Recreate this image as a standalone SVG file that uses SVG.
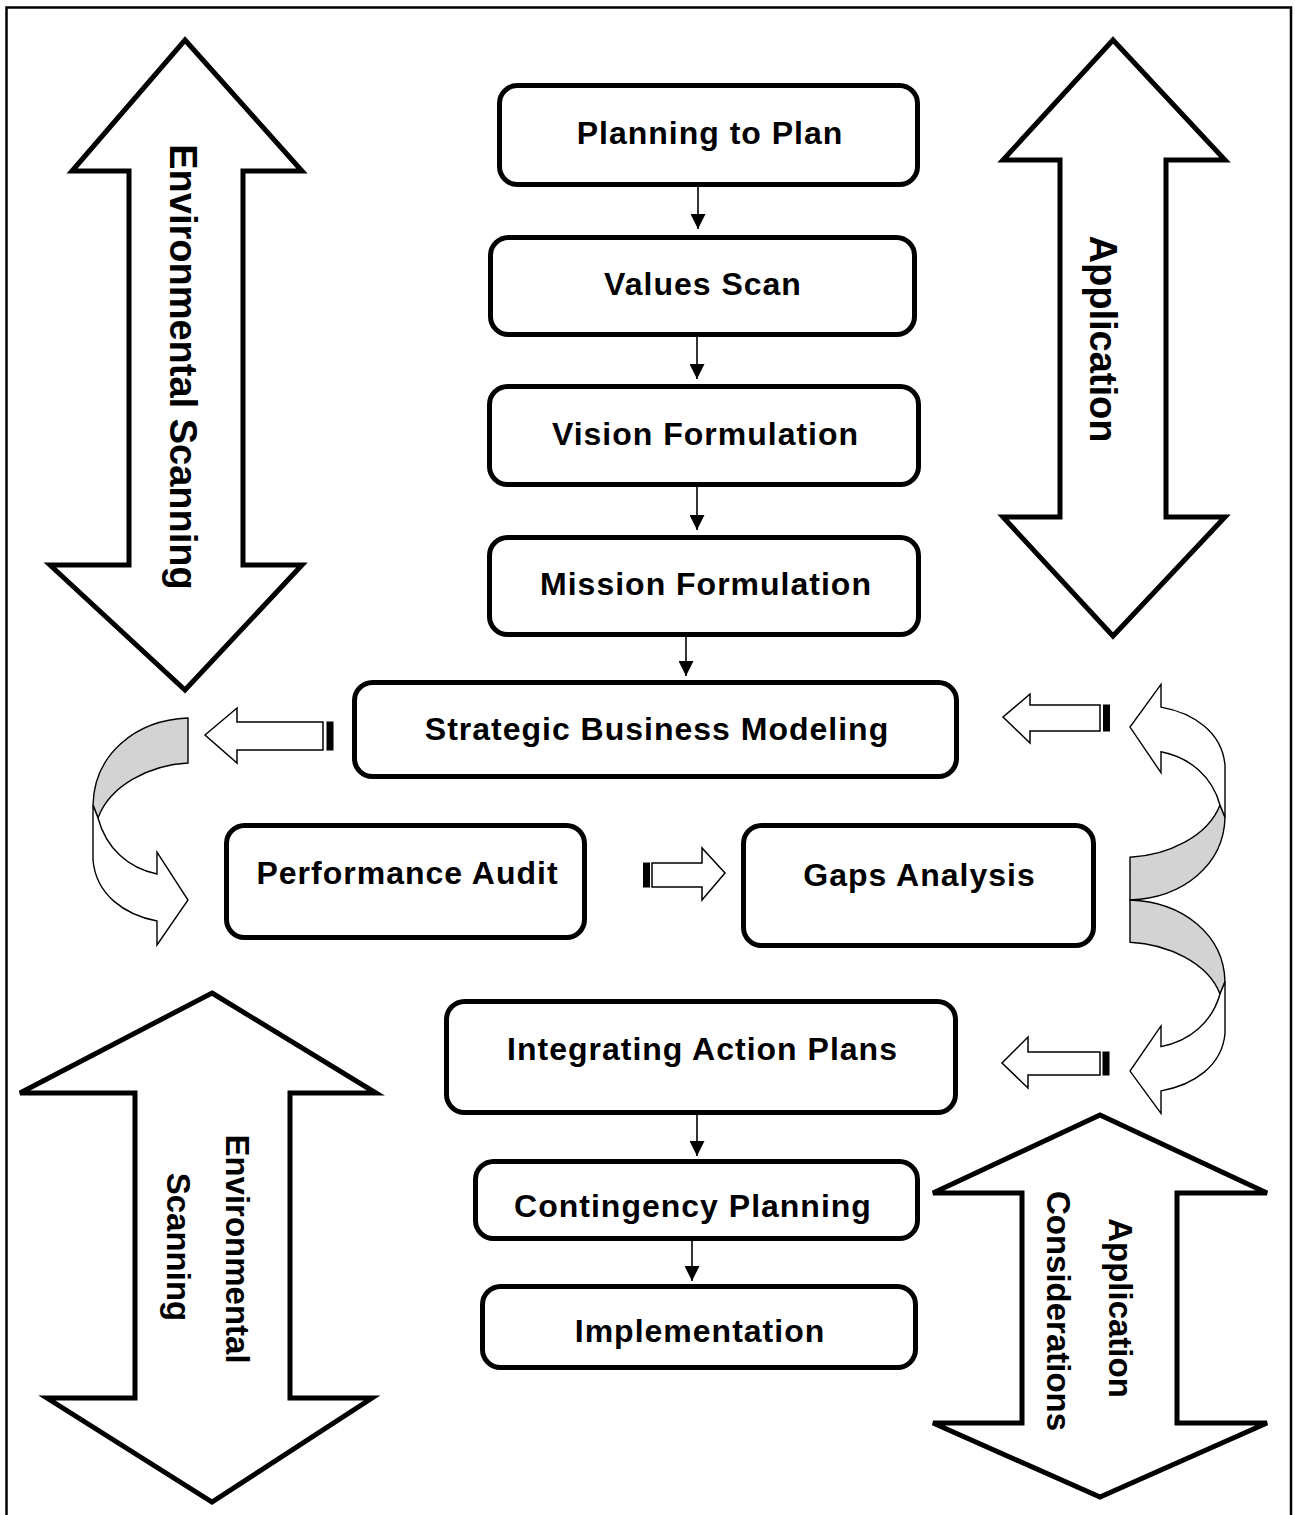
<svg xmlns="http://www.w3.org/2000/svg" width="1295" height="1515" viewBox="0 0 1295 1515">
  <style>
    .box { fill: #ffffff; stroke: #000000; stroke-width: 5; }
    .lbl { font-family: "Liberation Sans", Arial, sans-serif; font-weight: bold; font-size: 32px; letter-spacing: 1px; text-anchor: middle; dominant-baseline: central; fill: #000000; }
    .vlbl { font-family: "Liberation Sans", Arial, sans-serif; font-weight: bold; text-anchor: middle; dominant-baseline: central; fill: #000000; }
    .big { fill: #ffffff; stroke: #000000; stroke-width: 5; stroke-linejoin: miter; }
    .blk { fill: #ffffff; stroke: #000000; stroke-width: 1.5; stroke-linejoin: miter; }
    .bar { fill: #000000; stroke: #000000; stroke-width: 1; }
    .conn { stroke: #000000; stroke-width: 1.6; fill: none; }
    .band { fill: #d3d3d3; stroke: #000000; stroke-width: 1.4; }
    .front { fill: #ffffff; stroke: #000000; stroke-width: 1.4; }
  </style>
  <defs>
    <marker id="head" viewBox="0 0 10 10" refX="10" refY="5" markerUnits="userSpaceOnUse" markerWidth="15" markerHeight="15" orient="auto">
      <path d="M0,0 L10,5 L0,10 Z" fill="#000000"/>
    </marker>
    <!-- curled arrow: grey back band on top, white front turning down into a right-pointing head -->
    <g id="curl">
      <path class="band" vector-effect="non-scaling-stroke" d="M0,0 C-53,2 -94,37 -95,87 L-90,100 C-78,67 -38,47 0,45 Z"/>
      <path class="front" vector-effect="non-scaling-stroke" d="M-95,87 L-95,142 C-92,177 -63,197 -31,203 L-31,227 L0,182 L-31,134 L-31,156 C-60,150 -82,130 -90,100 Z"/>
    </g>
  </defs>

  <rect x="6.5" y="7.5" width="1284.5" height="1530" fill="none" stroke="#000000" stroke-width="2.5"/>

  <!-- large double-headed arrows -->
  <g id="env-scan-top">
    <polygon class="big" points="185,40 302,171 243,171 243,565 302,565 185,690 50,565 129,565 129,171 72,171"/>
    <text class="vlbl" font-size="38" transform="translate(183,367) rotate(90)">Environmental Scanning</text>
  </g>
  <g id="application-top">
    <polygon class="big" points="1113,40 1225,160 1166,160 1166,517 1225,517 1113,636 1003,517 1060,517 1060,160 1003,160"/>
    <text class="vlbl" font-size="38" transform="translate(1103,339) rotate(90)">Application</text>
  </g>
  <g id="env-scan-bottom">
    <polygon class="big" points="212,993 376,1093 290,1093 290,1398 372,1398 212,1502 47,1398 135,1398 135,1093 20,1093"/>
    <text class="vlbl" font-size="33" transform="translate(237,1249) rotate(90)">Environmental</text>
    <text class="vlbl" font-size="33" transform="translate(178,1247) rotate(90)">Scanning</text>
  </g>
  <g id="application-bottom">
    <polygon class="big" points="1100,1115 1267,1193 1177,1193 1177,1423 1267,1423 1100,1497 933,1423 1022,1423 1022,1193 933,1193"/>
    <text class="vlbl" font-size="33" transform="translate(1120,1308) rotate(90)">Application</text>
    <text class="vlbl" font-size="33" transform="translate(1058,1311) rotate(90)">Considerations</text>
  </g>

  <!-- process steps -->
  <g id="planning-to-plan">
    <rect class="box" x="499.5" y="85.5" width="418" height="99" rx="18"/>
    <text class="lbl" x="710" y="133">Planning to Plan</text>
  </g>
  <g id="values-scan">
    <rect class="box" x="490.5" y="237.5" width="424" height="97" rx="18"/>
    <text class="lbl" x="703" y="284">Values Scan</text>
  </g>
  <g id="vision-formulation">
    <rect class="box" x="489.5" y="386.5" width="429" height="98" rx="18"/>
    <text class="lbl" x="705.5" y="434">Vision Formulation</text>
  </g>
  <g id="mission-formulation">
    <rect class="box" x="489.5" y="537.5" width="429" height="97" rx="18"/>
    <text class="lbl" x="706" y="584">Mission Formulation</text>
  </g>
  <g id="strategic-business-modeling">
    <rect class="box" x="354.5" y="682.5" width="602" height="94" rx="18"/>
    <text class="lbl" x="657" y="729">Strategic Business Modeling</text>
  </g>
  <g id="performance-audit">
    <rect class="box" x="226.5" y="825.5" width="358" height="112" rx="18"/>
    <text class="lbl" x="407.5" y="873">Performance Audit</text>
  </g>
  <g id="gaps-analysis">
    <rect class="box" x="743.5" y="825.5" width="350" height="120" rx="18"/>
    <text class="lbl" x="919.5" y="875">Gaps Analysis</text>
  </g>
  <g id="integrating-action-plans">
    <rect class="box" x="446.5" y="1001.5" width="509" height="111" rx="18"/>
    <text class="lbl" x="702.5" y="1049">Integrating Action Plans</text>
  </g>
  <g id="contingency-planning">
    <rect class="box" x="475.5" y="1161.5" width="442" height="77" rx="18"/>
    <text class="lbl" x="693" y="1206">Contingency Planning</text>
  </g>
  <g id="implementation">
    <rect class="box" x="482.5" y="1286.5" width="433" height="81" rx="18"/>
    <text class="lbl" x="700" y="1331">Implementation</text>
  </g>

  <!-- connectors -->
  <g id="connectors">
    <line class="conn" x1="698" y1="187" x2="698" y2="229" marker-end="url(#head)"/>
    <line class="conn" x1="697" y1="337" x2="697" y2="379" marker-end="url(#head)"/>
    <line class="conn" x1="697" y1="487" x2="697" y2="530" marker-end="url(#head)"/>
    <line class="conn" x1="686" y1="637" x2="686" y2="676" marker-end="url(#head)"/>
    <line class="conn" x1="697" y1="1115" x2="697" y2="1156" marker-end="url(#head)"/>
    <line class="conn" x1="692" y1="1241" x2="692" y2="1281" marker-end="url(#head)"/>

    <!-- hollow block arrows with striped tails -->
    <polygon class="blk" points="205,735 237,708 237,722 323,722 323,750 237,750 237,763"/>
    <rect class="bar" x="327" y="722" width="6" height="28"/>

    <rect class="bar" x="643.5" y="863" width="6" height="24"/>
    <polygon class="blk" points="652,863 702,863 702,848 725,873 702,900 702,887 652,887"/>

    <polygon class="blk" points="1003,717 1030,694 1030,705 1100,705 1100,731 1030,731 1030,743"/>
    <rect class="bar" x="1103.5" y="705" width="6" height="26"/>

    <polygon class="blk" points="1002,1063 1028,1037 1028,1052 1100,1052 1100,1075 1028,1075 1028,1088"/>
    <rect class="bar" x="1103" y="1052" width="6" height="23"/>

    <!-- curled arrows -->
    <use href="#curl" transform="translate(188,718)"/>
    <use href="#curl" transform="translate(1130,900) rotate(180) scale(1,0.95)"/>
    <use href="#curl" transform="translate(1130,900) scale(-1,0.94)"/>
  </g>
</svg>
